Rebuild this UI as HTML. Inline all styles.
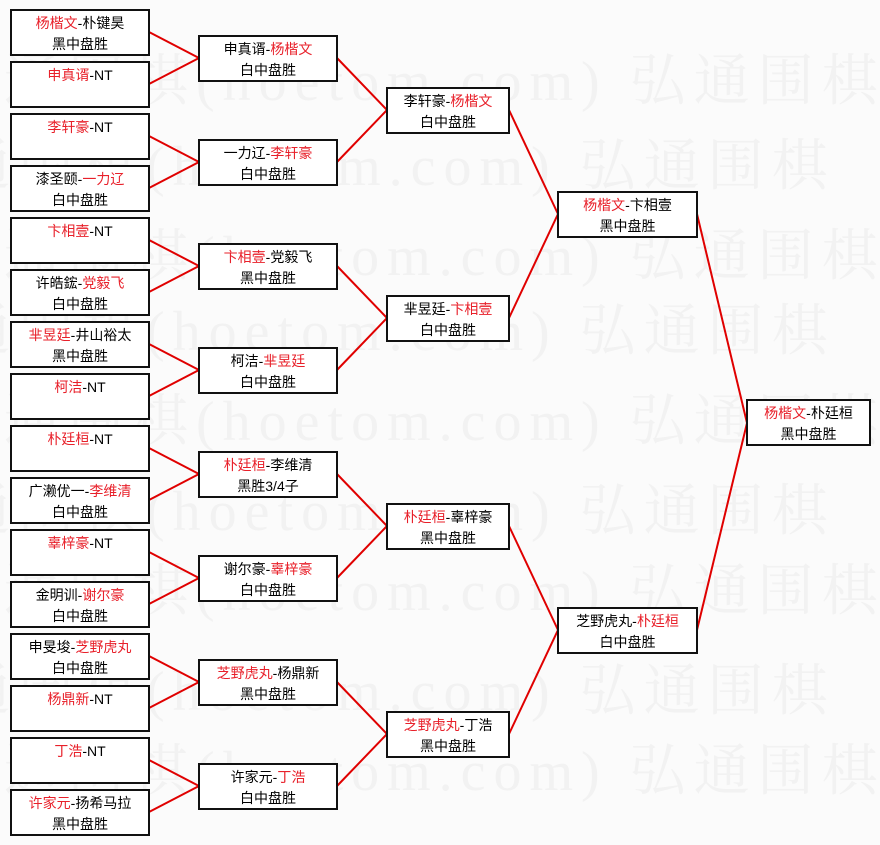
<!DOCTYPE html>
<html><head><meta charset="utf-8"><style>
html,body{margin:0;padding:0;background:#fbfbfb;}
svg{display:block;}
text{font-family:"Liberation Sans","Noto Sans CJK SC",sans-serif;font-size:14px;}
.r{fill:#e8202a;}
.wm text{font-family:"Liberation Serif","Noto Serif CJK SC",serif;font-size:56px;fill:#f2f2f2;letter-spacing:8px;}
</style></head><body>
<svg width="880" height="845" xmlns="http://www.w3.org/2000/svg">
<g class="wm">
<text x="-60" y="100">弘通围棋(hoetom.com) 弘通围棋</text>
<text x="-110" y="185">弘通围棋(hoetom.com) 弘通围棋</text>
<text x="-60" y="275">弘通围棋(hoetom.com) 弘通围棋</text>
<text x="-110" y="350">弘通围棋(hoetom.com) 弘通围棋</text>
<text x="-60" y="440">弘通围棋(hoetom.com) 弘通围棋</text>
<text x="-110" y="530">弘通围棋(hoetom.com) 弘通围棋</text>
<text x="-60" y="610">弘通围棋(hoetom.com) 弘通围棋</text>
<text x="-110" y="710">弘通围棋(hoetom.com) 弘通围棋</text>
<text x="-60" y="790">弘通围棋(hoetom.com) 弘通围棋</text>
</g>
<g stroke="#e00000" stroke-width="2" fill="none" id="lines"></g>
<g id="boxes"></g>
</svg>
<script>
var L=document.getElementById('lines'),B=document.getElementById('boxes'),NS='http://www.w3.org/2000/svg';
function ln(x1,y1,x2,y2){var e=document.createElementNS(NS,'line');e.setAttribute('x1',x1);e.setAttribute('y1',y1);e.setAttribute('x2',x2);e.setAttribute('y2',y2);L.appendChild(e);}
function box(x,y,w,l1,l2){var r=document.createElementNS(NS,'rect');r.setAttribute('x',x);r.setAttribute('y',y);r.setAttribute('width',w);r.setAttribute('height',45);r.setAttribute('fill','#fff');r.setAttribute('stroke','#111');r.setAttribute('stroke-width','2');B.appendChild(r);
var t=document.createElementNS(NS,'text');t.setAttribute('x',x+w/2);t.setAttribute('y',y+18);t.setAttribute('text-anchor','middle');
l1.forEach(function(p){var s=document.createElementNS(NS,'tspan');s.textContent=p[0];if(p[1])s.setAttribute('class','r');t.appendChild(s);});B.appendChild(t);
if(l2){var t2=document.createElementNS(NS,'text');t2.setAttribute('x',x+w/2);t2.setAttribute('y',y+39);t2.setAttribute('text-anchor','middle');t2.textContent=l2;B.appendChild(t2);}}
var c1=[[[["杨楷文",1],["-朴键昊"]],"黑中盘胜"],[[["申真谞",1],["-NT"]],""],[[["李轩豪",1],["-NT"]],""],[[["漆圣颐-"],["一力辽",1]],"白中盘胜"],
[[["卞相壹",1],["-NT"]],""],[[["许皓鋐-"],["党毅飞",1]],"白中盘胜"],[[["芈昱廷",1],["-井山裕太"]],"黑中盘胜"],[[["柯洁",1],["-NT"]],""],
[[["朴廷桓",1],["-NT"]],""],[[["广濑优一-"],["李维清",1]],"白中盘胜"],[[["辜梓豪",1],["-NT"]],""],[[["金明训-"],["谢尔豪",1]],"白中盘胜"],
[[["申旻埈-"],["芝野虎丸",1]],"白中盘胜"],[[["杨鼎新",1],["-NT"]],""],[[["丁浩",1],["-NT"]],""],[[["许家元",1],["-扬希马拉"]],"黑中盘胜"]];
var c2=[[[["申真谞-"],["杨楷文",1]],"白中盘胜"],[[["一力辽-"],["李轩豪",1]],"白中盘胜"],[[["卞相壹",1],["-党毅飞"]],"黑中盘胜"],[[["柯洁-"],["芈昱廷",1]],"白中盘胜"],
[[["朴廷桓",1],["-李维清"]],"黑胜3/4子"],[[["谢尔豪-"],["辜梓豪",1]],"白中盘胜"],[[["芝野虎丸",1],["-杨鼎新"]],"黑中盘胜"],[[["许家元-"],["丁浩",1]],"白中盘胜"]];
var c3=[[[["李轩豪-"],["杨楷文",1]],"白中盘胜"],[[["芈昱廷-"],["卞相壹",1]],"白中盘胜"],[[["朴廷桓",1],["-辜梓豪"]],"黑中盘胜"],[[["芝野虎丸",1],["-丁浩"]],"黑中盘胜"]];
var c4=[[[["杨楷文",1],["-卞相壹"]],"黑中盘胜"],[[["芝野虎丸-"],["朴廷桓",1]],"白中盘胜"]];
var i;
for(i=0;i<16;i++){box(11,10+52*i,138,c1[i][0],c1[i][1]);ln(149,32+52*i,199,58+104*Math.floor(i/2));}
for(i=0;i<8;i++){box(199,36+104*i,138,c2[i][0],c2[i][1]);ln(337,58+104*i,387,110+208*Math.floor(i/2));}
for(i=0;i<4;i++){box(387,88+208*i,122,c3[i][0],c3[i][1]);ln(509,110+208*i,558,214+416*Math.floor(i/2));}
for(i=0;i<2;i++){box(558,192+416*i,139,c4[i][0],c4[i][1]);ln(697,214+416*i,747,423);}
box(747,400,123,[["杨楷文",1],["-朴廷桓"]],"黑中盘胜");
</script>
</body></html>
